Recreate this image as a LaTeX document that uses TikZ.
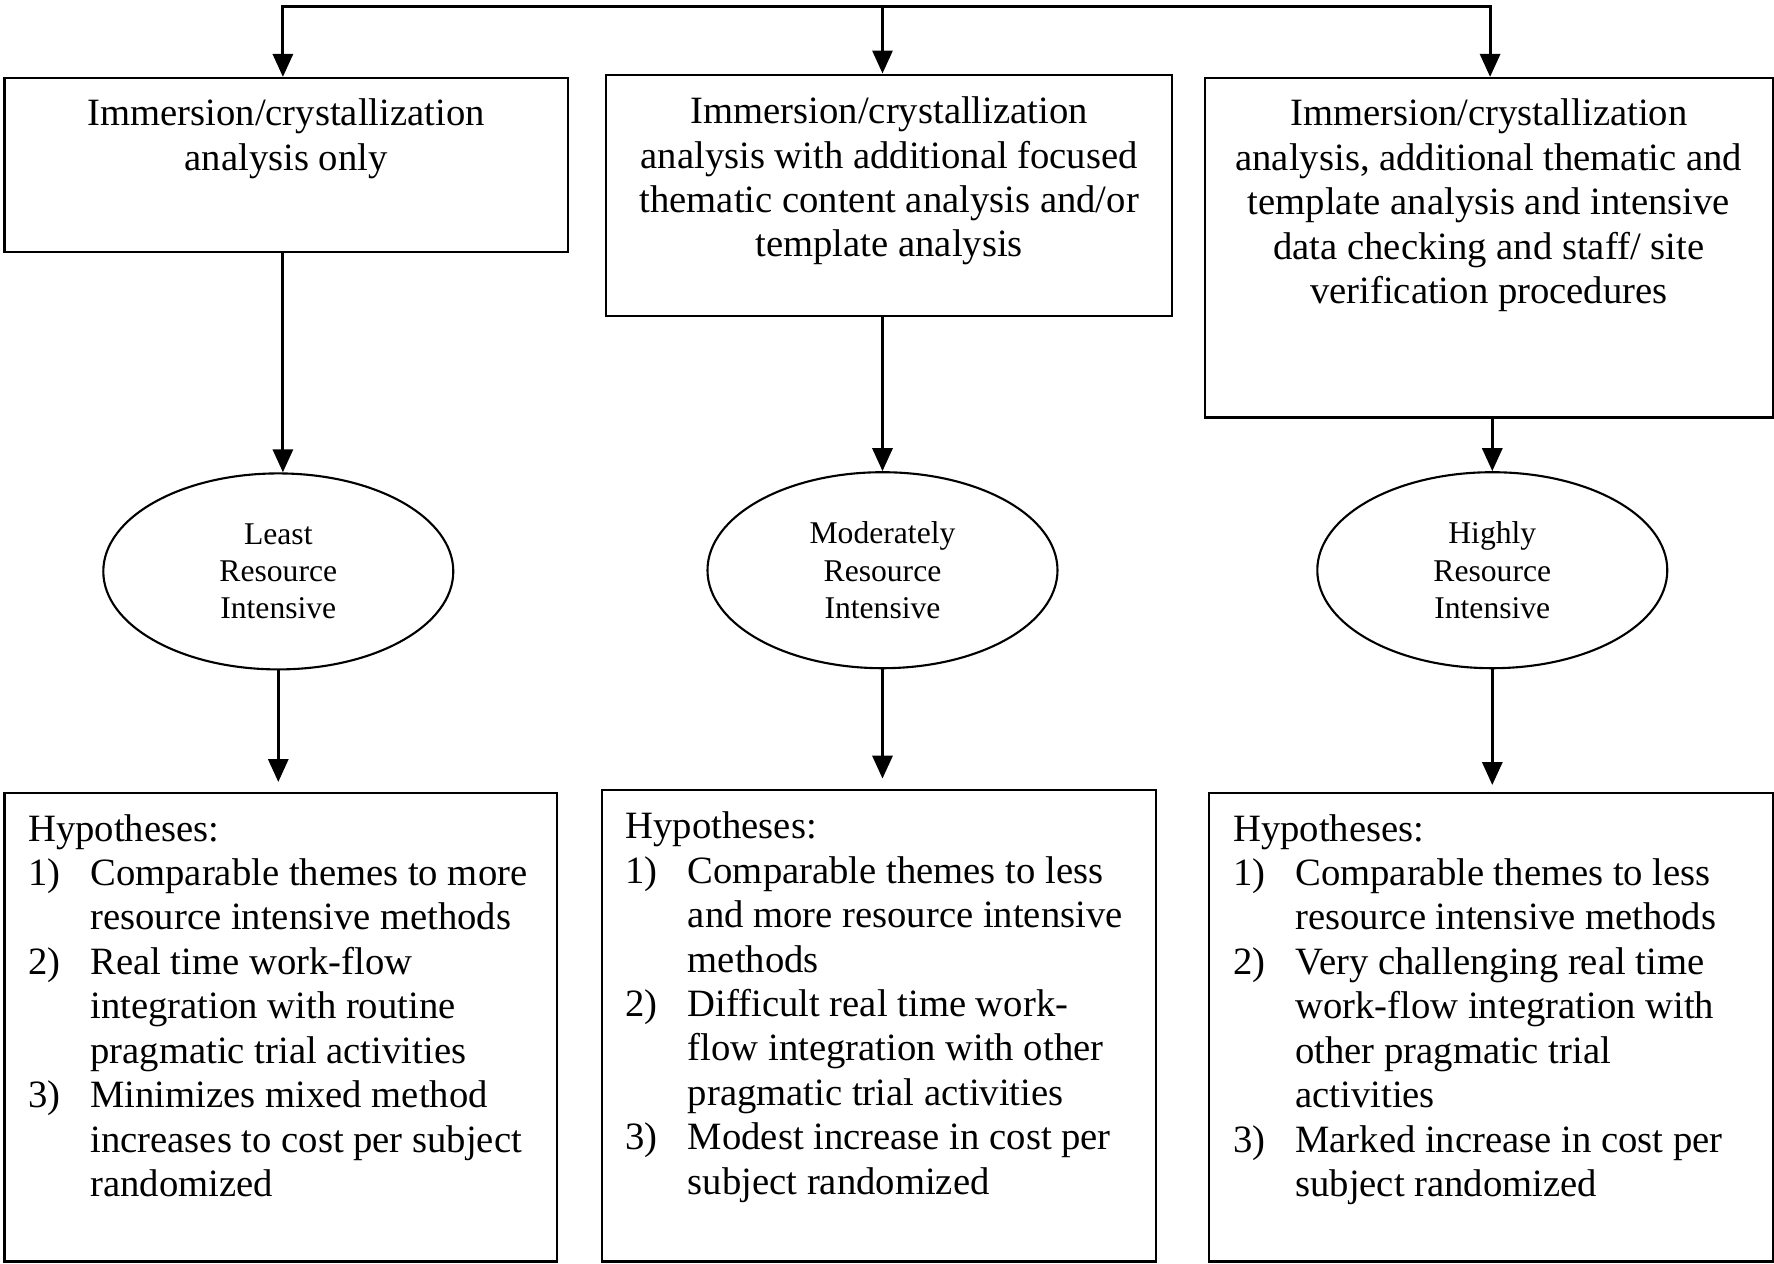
\documentclass[tikz,border=0pt]{standalone}
\usepackage{fontspec}
\setmainfont{Liberation Serif}
\usetikzlibrary{positioning,arrows.meta,shapes.geometric}

\newcommand{\boxfont}{\fontsize{11}{12.65}\selectfont}
\newcommand{\plainspace}{\spaceskip=0.25em\relax\xspaceskip=0.25em\relax}

\begin{document}
\begin{tikzpicture}[
    bodyfont/.style={font=\boxfont, execute at begin node=\plainspace},
    topbox/.style={draw, line width=0.6pt, anchor=north west, inner xsep=0.1cm,
      inner ysep=0pt, align=center, text height=0.48cm, bodyfont},
    hypbox/.style={draw, line width=0.6pt, anchor=north west, inner xsep=0.238cm,
      inner ysep=0pt, align=left, text height=0.48cm, bodyfont},
    level/.style={draw, ellipse, line width=0.6pt, minimum width=3.5cm,
      minimum height=1.96cm, inner sep=0pt, align=center,
      font=\fontsize{9}{10.6}\selectfont},
    arr/.style={line width=0.9pt, -{Triangle[length=2.3mm,width=2mm]}},
    arrboth/.style={line width=0.9pt,
      {Triangle[length=2.3mm,width=2mm]}-{Triangle[length=2.3mm,width=2mm]}}
  ]
          \useasboundingbox (0,0) rectangle (17.74,-12.63);

          \draw (0.034,-0.769) node[topbox, minimum width=5.634cm, text width=5.4cm,
          text depth=1.263cm] (box1)
          {Immersion/crystallization\\ analysis only};

          \draw (6.053,-0.735) node[topbox, minimum width=5.657cm, text width=5.4cm,
          text height=0.49cm, text depth=1.92cm] (box2)
          {Immersion/crystallization\\ analysis with additional focused\\
            thematic content analysis and/or\\ template analysis};

          \draw (12.038,-0.769) node[topbox, minimum width=5.68cm, text width=5.45cm,
          text depth=2.915cm] (box3)
          {Immersion/crystallization\\ analysis, additional thematic and\\
            template analysis and intensive\\ data checking and staff/ site\\
            verification procedures};

          \draw (2.783,-5.714) node[level] (ell1) {Least\\ Resource\\ Intensive};

          \draw (8.825,-5.702) node[level] (ell2) {Moderately\\ Resource\\ Intensive};

          \draw (14.923,-5.702) node[level] (ell3) {Highly\\ Resource\\ Intensive};

          \draw (0.034,-7.920) node[hypbox, minimum width=5.521cm, text width=5.045cm,
          text depth=4.204cm] (hyp1)
          {\begin{tabular}[t]{@{}p{0.622cm}@{}l@{}}
              \multicolumn{2}{@{}l@{}}{Hypotheses:}\\
              1) & Comparable themes to more\\
                 & resource intensive methods\\
              2) & Real time work-flow\\
                 & integration with routine\\
                 & pragmatic trial activities\\
              3) & Minimizes mixed method\\
                 & increases to cost per subject\\
                 & randomized
            \end{tabular}};

          \draw (6.008,-7.886) node[hypbox, minimum width=5.544cm, text width=5.068cm,
          text height=0.49cm, text depth=4.228cm] (hyp2)
          {\begin{tabular}[t]{@{}p{0.622cm}@{}l@{}}
              \multicolumn{2}{@{}l@{}}{Hypotheses:}\\
              1) & Comparable themes to less\\
                 & and more resource intensive\\
                 & methods\\
              2) & Difficult real time work-\\
                 & flow integration with other\\
                 & pragmatic trial activities\\
              3) & Modest increase in cost per\\
                 & subject randomized
            \end{tabular}};

          \draw (12.083,-7.920) node[hypbox, minimum width=5.635cm, text width=5.159cm,
          text depth=4.204cm] (hyp3)
          {\begin{tabular}[t]{@{}p{0.622cm}@{}l@{}}
              \multicolumn{2}{@{}l@{}}{Hypotheses:}\\
              1) & Comparable themes to less\\
                 & resource intensive methods\\
              2) & Very challenging real time\\
                 & work-flow integration with\\
                 & other pragmatic trial\\
                 & activities\\
              3) & Marked increase in cost per\\
                 & subject randomized
            \end{tabular}};

          % feed line along the top
          \coordinate (t1) at (2.829,-0.068);
          \coordinate (t2) at (8.825,-0.068);
          \coordinate (t3) at (14.901,-0.068);

          \draw[arrboth] (t1 |- box1.north) -- (t1) -- (t3) -- (t3 |- box3.north);

          \draw[arr] (t2) -- (t2 |- box2.north);

          \draw[arr] (box1.south -| t1) -- (t1 |- ell1.north);

          \draw[arr] (box2.south -| ell2.north) -- (ell2.north);

          \draw[arr] (box3.south -| ell3.north) -- (ell3.north);

          \draw[arr, shorten >=1mm] (ell1.south) -- (ell1.south |- hyp1.north);

          \draw[arr, shorten >=1mm] (ell2.south) -- (ell2.south |- hyp2.north);

          \draw[arr, shorten >=0.7mm] (ell3.south) -- (ell3.south |- hyp3.north);
\end{tikzpicture}
\end{document}
